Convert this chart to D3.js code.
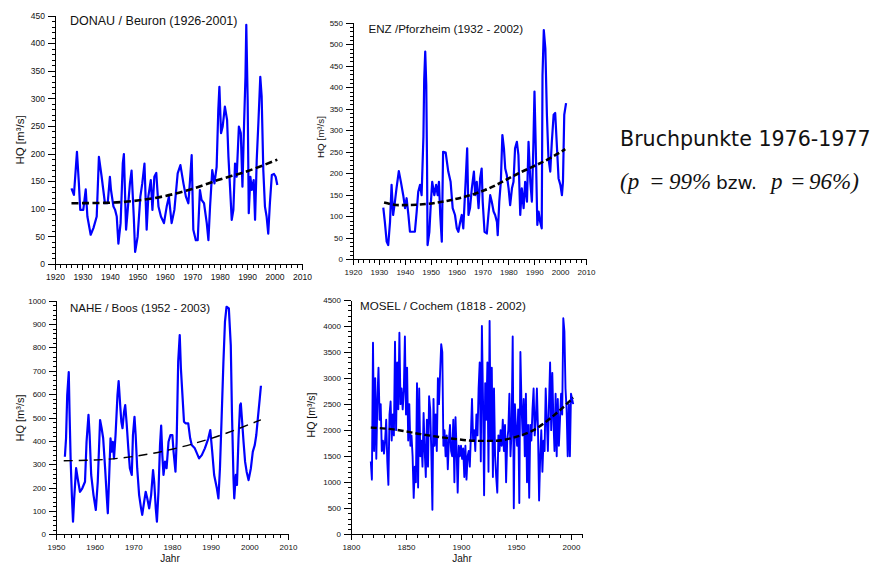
<!DOCTYPE html>
<html><head><meta charset="utf-8">
<script src="https://cdn.jsdelivr.net/npm/d3@7"></script>
<style>
html,body{margin:0;padding:0;background:#fff;}
svg{display:block;}
.ax text{font-family:"Liberation Sans",Arial,sans-serif;fill:#111;}
.ax path,.ax line{stroke:#000;stroke-width:1;shape-rendering:crispEdges;}
</style></head>
<body>
<svg id="c" width="877" height="565"></svg>
<script>
// ---------------- DATA ----------------
const donauYears = [1926.0,1926.9,1928.0,1928.7,1929.2,1930.3,1931.2,1931.8,1933.0,1934.0,1935.2,1936.0,1937.0,1937.6,1938.2,1939.2,1940.0,1940.4,1941.3,1941.9,1942.5,1943.1,1943.9,1944.7,1945.1,1945.9,1946.5,1947.3,1947.9,1948.7,1949.2,1950.1,1951.1,1951.8,1952.6,1953.4,1954.0,1954.9,1955.5,1956.2,1956.9,1957.7,1958.6,1959.7,1960.7,1961.5,1962.5,1963.5,1964.7,1965.7,1966.8,1967.7,1968.6,1969.2,1969.8,1970.4,1971.3,1972.0,1972.8,1973.4,1974.3,1975.3,1975.9,1976.5,1977.3,1978.1,1978.9,1979.5,1979.9,1980.5,1981.1,1981.9,1982.7,1983.2,1984.4,1985.0,1985.6,1986.2,1987.0,1987.7,1988.3,1988.9,1989.4,1989.7,1990.2,1990.6,1991.2,1991.7,1992.4,1992.9,1993.5,1994.1,1994.8,1995.3,1995.9,1996.5,1997.1,1997.7,1998.3,1999.0,1999.8,2000.4,2001.0];
const donauHQ = [137,125,203,146,98,98,135,86,53,65,86,194,158,134,110,110,158,134,104,98,86,37,74,182,199,62,98,146,169,86,22,49,122,146,182,62,122,152,98,158,165,104,86,74,104,122,74,98,164,179,146,122,110,152,197,62,43,43,134,116,110,74,43,104,170,146,176,279,321,237,249,285,261,194,80,98,182,158,249,237,140,255,339,433,297,92,158,134,152,80,188,255,339,303,170,104,86,55,110,161,163,158,143];
const donauTrendYears = [1926,1940,1950,1960,1970,1980,1990,2001];
const donauTrendHQ = [110,111,115,123,136,153,168,189];

const enzYears = [1931.7,1932.3,1933.0,1933.6,1934.3,1934.9,1935.5,1936.2,1936.8,1937.7,1938.5,1939.4,1940.1,1940.7,1941.4,1942.0,1943.3,1943.9,1944.6,1945.2,1945.9,1946.5,1947.2,1947.5,1947.9,1948.3,1948.6,1948.8,1949.5,1950.1,1950.6,1951.4,1952.1,1952.7,1953.2,1953.7,1954.3,1954.8,1955.8,1956.8,1957.7,1958.5,1959.4,1960.1,1960.7,1961.4,1962.0,1962.6,1963.5,1964.1,1964.6,1965.2,1965.9,1966.7,1967.2,1967.8,1968.5,1969.1,1969.7,1970.1,1970.8,1971.7,1972.3,1973.0,1973.6,1974.3,1974.9,1975.6,1975.9,1976.5,1977.1,1977.7,1978.3,1978.8,1979.4,1980.1,1980.7,1981.4,1982.0,1982.6,1983.3,1983.9,1984.6,1985.2,1985.9,1986.5,1987.2,1987.8,1988.5,1989.1,1989.7,1990.1,1990.6,1991.2,1991.7,1992.3,1992.9,1993.2,1993.7,1994.3,1994.9,1995.5,1996.2,1996.8,1997.5,1998.1,1998.8,1999.4,2000.1,2000.7,2001.1,2001.6,2002.3];
const enzHQ = [120,87,41,33,87,173,103,134,165,205,180,149,119,142,103,64,64,64,111,157,173,149,285,417,483,405,219,33,64,134,180,149,173,149,180,103,41,250,248,204,180,119,103,72,64,87,103,72,180,258,103,119,165,204,149,180,119,188,211,134,64,60,103,149,134,111,103,87,56,134,180,289,258,211,196,165,126,165,180,258,273,242,103,165,119,180,134,273,180,134,273,390,258,80,111,87,72,428,533,490,336,235,204,273,336,340,258,188,173,149,180,336,363];
const enzTrendYears = [1932,1938,1945,1958,1971,1984,1997,2002];
const enzTrendHQ = [132,126,127,138,161,200,238,256];

const naheYears = [1952.3,1952.6,1952.9,1953.3,1953.5,1953.8,1954.1,1954.4,1954.7,1955.2,1955.6,1956.2,1956.8,1957.5,1957.9,1958.4,1958.7,1959.1,1959.7,1960.3,1960.8,1961.4,1961.8,1962.2,1962.7,1963.1,1963.4,1963.7,1964.1,1964.4,1964.7,1965.0,1965.4,1965.9,1966.2,1966.6,1966.9,1967.2,1967.6,1967.9,1968.3,1968.7,1969.1,1969.6,1969.9,1970.3,1970.6,1971.0,1971.5,1972.0,1972.3,1972.8,1973.2,1973.6,1974.1,1974.6,1975.1,1975.4,1975.8,1976.1,1976.5,1976.9,1977.2,1977.5,1977.8,1978.2,1978.6,1979.1,1979.6,1980.1,1980.4,1980.9,1981.2,1981.6,1982.0,1982.3,1982.7,1983.1,1983.5,1984.2,1984.7,1985.1,1985.9,1987.0,1987.7,1988.5,1989.4,1989.9,1990.4,1990.9,1991.6,1992.0,1992.4,1992.8,1993.3,1993.7,1994.1,1994.7,1995.2,1995.5,1995.9,1996.1,1996.5,1996.8,1997.2,1997.6,1997.8,1998.2,1998.5,1998.9,1999.3,1999.8,2000.4,2000.9,2001.4,2001.8,2002.2,2002.7,2003.0];
const naheHQ = [332,411,596,694,525,311,168,54,154,283,240,182,197,225,396,511,425,254,168,104,225,489,454,411,283,168,90,225,411,354,396,325,425,596,656,553,482,454,525,553,468,368,283,254,425,503,425,283,168,111,83,140,182,154,111,168,275,225,111,54,182,382,465,339,254,311,283,396,425,425,354,268,396,739,853,711,596,482,475,475,411,382,368,325,339,368,411,446,354,254,197,154,283,482,739,910,974,967,810,525,240,154,254,211,411,553,560,468,396,311,268,232,283,354,382,425,496,582,636];
const naheTrendYears = [1952,1960,1970,1980,1990,2003];
const naheTrendHQ = [315,318,333,364,410,490];

const moselStartYear = 1818;
const moselHQ = [1400,1050,3680,1600,3000,1450,2600,3200,2200,2500,1600,1800,1550,1800,2200,1400,950,2300,2550,1800,
  2300,1900,3700,2000,3300,2400,3870,2500,2800,2400,2750,3800,2300,3200,1800,2500,1700,1900,1500,700,
  1300,1000,2900,900,2800,1500,1800,1300,2330,1600,1100,2200,1300,2650,2400,1600,470,2600,1700,2300,
  1600,3000,2500,3100,3650,3500,1700,2000,1500,1900,1250,1800,2100,1600,1500,2200,1000,2250,1600,800,
  1700,1500,1700,1450,1650,1100,1700,1050,1500,1600,1300,1900,2600,1800,2000,1600,2300,1900,2800,3300,
  1400,4000,2600,750,2900,2200,3300,1200,4100,1800,3200,1100,2800,1500,1100,800,1900,1600,2000,1700,
  2200,1600,2100,1000,1800,2000,2700,1500,2000,3800,500,2500,2000,1700,2400,600,3500,2500,1900,2600,
  1500,2700,1000,2100,700,2100,1800,2400,2800,1900,2200,2800,2000,650,1500,2000,1200,1800,1600,2800,
  2200,1600,2500,3300,2000,3100,2200,1600,2700,1500,2600,1700,2200,2700,2300,4150,3900,2800,2400,1500,
  2500,1500,2700,2600,2500];
const moselTrendYears = [1818,1840,1863,1893,1915,1930,1950,1966,1981,1990,2002];
const moselTrendHQ = [2050,2010,1925,1835,1795,1795,1870,2000,2225,2385,2625];

const donauXTicks = [1920,1930,1940,1950,1960,1970,1980,1990,2000,2010];
const donauYTicks = [0,50,100,150,200,250,300,350,400,450];
const enzXTicks = [1920,1930,1940,1950,1960,1970,1980,1990,2000,2010];
const enzYTicks = [0,50,100,150,200,250,300,350,400,450,500,550];
const naheXTicks = [1950,1960,1970,1980,1990,2000,2010];
const naheYTicks = [0,100,200,300,400,500,600,700,800,900,1000];
const moselXTicks = [1800,1850,1900,1950,2000];
const moselYTicks = [0,500,1000,1500,2000,2500,3000,3500,4000,4500];
const donauXDomain = [1920,2010], enzXDomain = [1920,2010], naheXDomain = [1950,2010], moselXDomain = [1800,2010];

const titles = ["DONAU / Beuron (1926-2001)","ENZ /Pforzheim (1932 - 2002)","NAHE / Boos (1952 - 2003)","MOSEL / Cochem (1818 - 2002)"];
const yLabel = "HQ [m³/s]";
const xLabel = "Jahr";
const noteLine1 = "Bruchpunkte 1976-1977";

// ---------------- LAYOUT ----------------
const moselYears = d3.range(moselStartYear, moselStartYear + moselHQ.length);
const panels = [
  {title:titles[0], years:donauYears, values:donauHQ, tY:donauTrendYears, tV:donauTrendHQ, xd:donauXDomain,
   xT:donauXTicks, yT:donauYTicks, xMin:2, yMin:10, xr:[55,302], yr:[264,15.5],
   titleX:70, titleY:25, titleSize:12.5, ylX:20, ylY:140, ylSize:11.5, tick:8.5,
   lw:2.2, dash:"7,3.5", tw:2.6, xLab:false},
  {title:titles[1], years:enzYears, values:enzHQ, tY:enzTrendYears, tV:enzTrendHQ, xd:enzXDomain,
   xT:enzXTicks, yT:enzYTicks, xMin:2, yMin:10, xr:[353,586], yr:[259.3,22.7],
   titleX:368.5, titleY:33, titleSize:11.6, ylX:321, ylY:137, ylSize:9.8, tick:8,
   lw:2.2, dash:"6,3", tw:2.6, xLab:false},
  {title:titles[2], years:naheYears, values:naheHQ, tY:naheTrendYears, tV:naheTrendHQ, xd:naheXDomain,
   xT:naheXTicks, yT:naheYTicks, xMin:2, yMin:20, xr:[56,288], yr:[534.3,300.7],
   titleX:70, titleY:312, titleSize:11.5, ylX:20, ylY:418, ylSize:11, tick:8,
   lw:2.2, dash:"9,6", tw:1.4, xLab:true, xLabX:170},
  {title:titles[3], years:moselYears, values:moselHQ, tY:moselTrendYears, tV:moselTrendHQ, xd:moselXDomain,
   xT:moselXTicks, yT:moselYTicks, xMin:10, yMin:100, xr:[351,582], yr:[534.3,300],
   titleX:360, titleY:310, titleSize:11.6, ylX:311, ylY:415, ylSize:10.5, tick:8,
   lw:1.9, dash:"6,3", tw:2.4, xLab:true, xLabX:462}
];

const svg = d3.select("#c");
svg.append("rect").attr("width",877).attr("height",565).attr("fill","#fff");

panels.forEach(p => {
  const xd = p.xd;
  const yd = [p.yT[0], p.yT[p.yT.length-1]];
  const x = d3.scaleLinear().domain(xd).range(p.xr);
  const y = d3.scaleLinear().domain(yd).range(p.yr);
  const g = svg.append("g");

  // minor ticks
  g.append("g").attr("class","ax").attr("transform",`translate(0,${p.yr[0]})`)
    .call(d3.axisBottom(x).tickValues(d3.range(xd[0], xd[1]+1e-6, p.xMin)).tickSize(3.5).tickSizeOuter(0).tickFormat(""));
  g.append("g").attr("class","ax").attr("transform",`translate(${p.xr[0]},0)`)
    .call(d3.axisLeft(y).tickValues(d3.range(yd[0], yd[1]+1e-6, p.yMin)).tickSize(3.5).tickSizeOuter(0).tickFormat(""));
  // major ticks
  const xa = g.append("g").attr("class","ax").attr("transform",`translate(0,${p.yr[0]})`)
    .call(d3.axisBottom(x).tickValues(p.xT).tickSize(6).tickSizeOuter(0).tickPadding(4).tickFormat(d3.format("d")));
  xa.selectAll("text").style("font-size",p.tick+"px");
  const ya = g.append("g").attr("class","ax").attr("transform",`translate(${p.xr[0]},0)`)
    .call(d3.axisLeft(y).tickValues(p.yT).tickSize(7).tickSizeOuter(0).tickPadding(3).tickFormat(d3.format("d")));
  ya.selectAll("text").style("font-size",p.tick+"px");

  // data line
  const line = d3.line().x((d,i)=>x(p.years[i])).y(d=>y(d));
  g.append("path").datum(p.values).attr("d",line)
    .attr("fill","none").attr("stroke","#0000ff").attr("stroke-width",p.lw).attr("stroke-linejoin","round");

  // trend
  const tl = d3.line().x((d,i)=>x(p.tY[i])).y(d=>y(d)).curve(d3.curveMonotoneX);
  g.append("path").datum(p.tV).attr("d",tl)
    .attr("fill","none").attr("stroke","#000").attr("stroke-width",p.tw).attr("stroke-dasharray",p.dash);

  // title
  g.append("text").attr("x",p.titleX).attr("y",p.titleY).text(p.title)
    .style("font-family","'Liberation Sans',Arial,sans-serif").style("font-size",p.titleSize+"px").attr("fill","#111");
  // y label
  g.append("text").attr("transform",`translate(${p.ylX},${p.ylY}) rotate(-90)`).attr("text-anchor","middle")
    .attr("dy","0.35em").text(yLabel)
    .style("font-family","'Liberation Sans',Arial,sans-serif").style("font-size",p.ylSize+"px").attr("fill","#111");
  if (p.xLab) {
    g.append("text").attr("x",p.xLabX).attr("y",562).attr("text-anchor","middle").text(xLabel)
      .style("font-family","'Liberation Sans',Arial,sans-serif").style("font-size","10px").attr("fill","#111");
  }
});

// right annotation
const ann = svg.append("g").style("font-family","'DejaVu Sans',sans-serif").attr("fill","#111");
ann.append("text").attr("x",620).attr("y",146).style("font-size","20.6px").text(noteLine1);
const t2 = ann.append("text").attr("y",189);
const it = (s,xx) => t2.append("tspan").attr("x",xx).style("font-family","'Liberation Serif','Times New Roman',serif").style("font-style","italic").style("font-size","23px").text(s);
const rm = (s,xx) => t2.append("tspan").attr("x",xx).style("font-size","18.5px").text(s);
it("(p",620); it("=",649); it("99%",669);
rm("bzw.",716);
it("p",771); it("=",790); it("96%)",809);
</script>
</body></html>
